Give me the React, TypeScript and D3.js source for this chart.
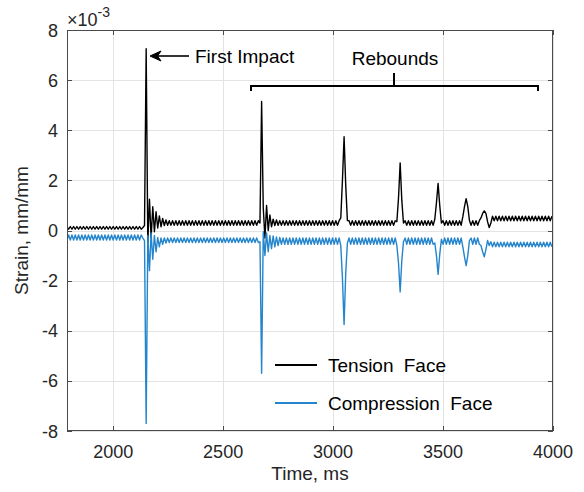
import React from 'react';
import * as d3 from 'd3';

// Sample grid: first sample time and sampling step (ms)
const T0 = 1790;
const DT = 7.5;

// Strain values in units of 1e-3 mm/mm
const tension: number[] = [
  .16,.05,.16,.05,.16,.05,.16,.05,.16,.05,
  .16,.05,.16,.05,.16,.05,.16,.05,.16,.05,
  .16,.05,.16,.05,.16,.05,.16,.05,.16,.05,
  .16,.05,.16,.05,.16,.05,.16,.05,.16,.05,
  .16,.05,.16,.05,.16,.05,.12,.2,7.25,-.5,
  1.25,-.3,.95,-.05,.75,.1,.58,.15,.48,.2,
  .42,.21,.39,.21,.39,.21,.39,.21,.39,.21,
  .39,.21,.39,.21,.39,.21,.39,.21,.39,.21,
  .39,.21,.39,.21,.39,.21,.39,.21,.39,.21,
  .39,.21,.39,.21,.39,.21,.39,.21,.39,.21,
  .39,.21,.39,.21,.39,.21,.39,.21,.39,.21,
  .39,.21,.39,.21,.39,.21,.39,.3,5.15,.9,
  -.3,1.0,0,.62,.15,.45,.2,.42,.21,.39,
  .21,.39,.21,.39,.21,.39,.21,.39,.21,.39,
  .21,.39,.21,.39,.21,.39,.21,.39,.21,.39,
  .21,.39,.21,.39,.21,.39,.21,.39,.21,.39,
  .21,.39,.21,.39,.21,.39,.5,2.0,3.74,1.8,
  .4,.39,.21,.39,.21,.39,.21,.39,.21,.39,
  .21,.39,.21,.39,.21,.39,.21,.39,.21,.39,
  .21,.39,.21,.39,.21,.39,.21,.39,.21,.39,
  .35,1.3,2.7,1.2,.3,.39,.21,.39,.21,.39,
  .21,.39,.21,.39,.21,.39,.21,.39,.21,.39,
  .21,.39,.21,.45,1.1,1.88,1.0,.3,.39,.21,
  .39,.21,.39,.21,.39,.21,.39,.21,.39,.21,
  .55,.95,1.27,.95,.4,.21,.39,.21,.39,.21,
  .39,.5,.68,.78,.68,.35,.12,.3,.57,.39,
  .57,.39,.57,.39,.57,.39,.57,.39,.57,.39,
  .57,.39,.57,.39,.57,.39,.57,.39,.57,.39,
  .57,.39,.57,.39,.57,.39,.57,.39,.57,.39,
  .57,.39,.57,.39,.57,
];

const compression: number[] = [
  -.38,-.18,-.38,-.18,-.38,-.18,-.38,-.18,-.38,-.18,
  -.38,-.18,-.38,-.18,-.38,-.18,-.38,-.18,-.38,-.18,
  -.38,-.18,-.38,-.18,-.38,-.18,-.38,-.18,-.38,-.18,
  -.38,-.18,-.38,-.18,-.38,-.18,-.38,-.18,-.38,-.18,
  -.38,-.18,-.38,-.18,-.38,-.18,-.3,-.4,-7.7,-.2,
  -1.6,-.1,-1.15,-.2,-.85,-.28,-.65,-.3,-.55,-.3,
  -.5,-.3,-.48,-.3,-.48,-.3,-.48,-.3,-.48,-.3,
  -.48,-.3,-.48,-.3,-.48,-.3,-.48,-.3,-.48,-.3,
  -.48,-.3,-.48,-.3,-.48,-.3,-.48,-.3,-.48,-.3,
  -.48,-.3,-.48,-.3,-.48,-.3,-.48,-.3,-.48,-.3,
  -.48,-.3,-.48,-.3,-.48,-.3,-.48,-.3,-.48,-.3,
  -.48,-.3,-.48,-.3,-.48,-.3,-.48,-.45,-5.7,-.05,
  -1.0,-.1,-.85,-.2,-.72,-.22,-.65,-.26,-.6,-.28,
  -.55,-.3,-.55,-.3,-.55,-.3,-.55,-.3,-.55,-.3,
  -.55,-.3,-.55,-.3,-.55,-.3,-.55,-.3,-.55,-.3,
  -.55,-.3,-.55,-.3,-.55,-.3,-.55,-.3,-.55,-.3,
  -.55,-.3,-.55,-.3,-.55,-.3,-.6,-1.9,-3.75,-1.7,
  -.5,-.3,-.55,-.3,-.55,-.3,-.55,-.3,-.55,-.3,
  -.55,-.3,-.55,-.3,-.55,-.3,-.55,-.3,-.55,-.3,
  -.55,-.3,-.55,-.3,-.55,-.3,-.55,-.3,-.55,-.3,
  -.6,-1.3,-2.45,-1.2,-.45,-.3,-.55,-.3,-.55,-.3,
  -.55,-.3,-.55,-.3,-.55,-.3,-.55,-.3,-.55,-.3,
  -.55,-.3,-.55,-.5,-1.0,-1.75,-.95,-.35,-.55,-.3,
  -.55,-.3,-.55,-.3,-.55,-.3,-.55,-.3,-.55,-.3,
  -.65,-1.05,-1.4,-1.0,-.4,-.3,-.55,-.3,-.55,-.3,
  -.55,-.6,-.85,-1.05,-.75,-.4,-.6,-.45,-.65,-.47,
  -.65,-.47,-.65,-.47,-.65,-.47,-.65,-.47,-.65,-.47,
  -.65,-.47,-.65,-.47,-.65,-.47,-.65,-.47,-.65,-.47,
  -.65,-.47,-.65,-.47,-.65,-.47,-.65,-.47,-.65,-.47,
  -.65,-.47,-.65,-.47,-.65,
];

const xDomain = [1790, 4000];
const yDomain = [-8, 8];
const xTicks = [2000, 2500, 3000, 3500, 4000];
const yTicks = [-8, -6, -4, -2, 0, 2, 4, 6, 8];
const seriesNames = ['Tension Face', 'Compression Face'];
const seriesColors = ['#000000', '#2484cc'];
const xLabel = 'Time, ms';
const yLabel = 'Strain, mm/mm';
const impactLabel = 'First Impact';
const reboundLabel = 'Rebounds';

const FONT = '"Liberation Sans", Arial, Helvetica, sans-serif';
const TXT = '#262626';

export default function App() {
  const W = 584, H = 492;
  const left = 67, right = 553, top = 30, bottom = 431;
  const x = d3.scaleLinear().domain(xDomain).range([left, right]);
  const y = d3.scaleLinear().domain(yDomain).range([bottom, top]);
  const line = d3.line<number>().x((_, i) => x(T0 + i * DT)).y((d) => y(d));
  const series = [tension, compression];

  return (
    <div style={{ position: 'absolute', left: 0, top: 0 }}>
      <svg width={W} height={H} style={{ display: 'block', background: '#fff' }} fontFamily={FONT}>
        <defs>
          <clipPath id="plot">
            <rect x={left} y={top} width={right - left} height={bottom - top} />
          </clipPath>
        </defs>
        <rect x={0} y={0} width={W} height={H} fill="#fff" />
        {/* grid */}
        {xTicks.map((t) => (
          <line key={'gx' + t} x1={Math.round(x(t)) + 0.5} x2={Math.round(x(t)) + 0.5} y1={top} y2={bottom} stroke="#e3e3e3" strokeWidth={1} />
        ))}
        {yTicks.map((t) => (
          <line key={'gy' + t} x1={left} x2={right} y1={Math.round(y(t)) + 0.5} y2={Math.round(y(t)) + 0.5} stroke="#e3e3e3" strokeWidth={1} />
        ))}
        {/* data */}
        <g clipPath="url(#plot)">
          {series.map((s, k) => (
            <path key={k} d={line(s) || ''} fill="none" stroke={seriesColors[k]} strokeWidth={1.4} strokeLinejoin="round" />
          ))}
        </g>
        {/* box */}
        <rect x={left + 0.5} y={top + 0.5} width={right - left - 1} height={bottom - top - 1} fill="none" stroke="#4a4a4a" strokeWidth={1} />
        {/* ticks */}
        {xTicks.map((t) => {
          const px = Math.round(x(t)) + 0.5;
          return (
            <g key={'tx' + t}>
              <line x1={px} x2={px} y1={bottom} y2={bottom - 5} stroke="#4a4a4a" />
              <line x1={px} x2={px} y1={top} y2={top + 5} stroke="#4a4a4a" />
              <text x={x(t)} y={458} textAnchor="middle" fontSize={18} fill={TXT}>{t}</text>
            </g>
          );
        })}
        {yTicks.map((t) => {
          const py = Math.round(y(t)) + 0.5;
          return (
            <g key={'ty' + t}>
              <line x1={left} x2={left + 5} y1={py} y2={py} stroke="#4a4a4a" />
              <line x1={right} x2={right - 5} y1={py} y2={py} stroke="#4a4a4a" />
              <text x={58} y={y(t) + 6.5} textAnchor="end" fontSize={18} fill={TXT}>{t}</text>
            </g>
          );
        })}
        {/* exponent */}
        <text x={67} y={26} fontSize={18} fill={TXT}>
          ×10<tspan fontSize={14} dy={-9}>-3</tspan>
        </text>
        {/* axis labels */}
        <text x={(left + right) / 2} y={480} textAnchor="middle" fontSize={19} fill={TXT}>{xLabel}</text>
        <text transform={`translate(28,${(top + bottom) / 2}) rotate(-90)`} textAnchor="middle" fontSize={19} fill={TXT}>{yLabel}</text>
        {/* First impact annotation */}
        <line x1={157} x2={189} y1={56} y2={56} stroke="#000" strokeWidth={1.6} />
        <path d="M150,56 L161,51 L157.5,56 L161,61 Z" fill="#000" stroke="#000" strokeWidth={1} strokeLinejoin="miter" />
        <text x={195} y={62.5} fontSize={19} fill="#000">{impactLabel}</text>
        {/* Rebounds bracket */}
        <path d="M251,91 L251,86 L538,86 L538,91 M394,86 L394,73" fill="none" stroke="#000" strokeWidth={2} />
        <text x={395} y={65} textAnchor="middle" fontSize={19} fill="#000">{reboundLabel}</text>
        {/* legend */}
        {seriesNames.map((n, k) => (
          <g key={'lg' + n}>
            <line x1={275} x2={317} y1={365 + k * 38} y2={365 + k * 38} stroke={seriesColors[k]} strokeWidth={2.2} />
            <text x={328} y={372 + k * 38} fontSize={19} fill="#000" style={{ wordSpacing: '5px' }}>{n}</text>
          </g>
        ))}
      </svg>
    </div>
  );
}
